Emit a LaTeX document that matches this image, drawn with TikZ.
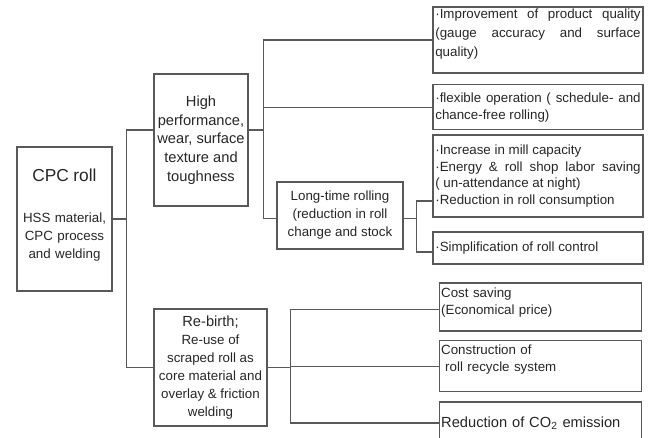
\documentclass[tikz,border=0pt]{standalone}
\usepackage{fontspec}
\setmainfont{Liberation Sans}
\usetikzlibrary{positioning}
\newcommand{\justtext}{\tolerance=9999\hyphenpenalty=10000\exhyphenpenalty=10000}
\tikzstyle{line} = [draw, black!65, line width=0.8pt]
\tikzstyle{plainbox} = [rectangle, draw=black!65, line width=0.8pt, text=black!85, inner sep=1.5pt]
\tikzstyle{itembox} = [plainbox, text width=154pt, align=justify, minimum width=157.5pt, font=\fontsize{10}{12.5}\selectfont\justtext]
\tikzstyle{effectbox} = [plainbox, text width=149pt, align=left, minimum width=152pt, font=\fontsize{10}{12.5}\selectfont]

\begin{document}
\begin{tikzpicture}[x=0.75pt, y=-0.75pt, node distance=50pt]
\useasboundingbox (0,0) rectangle (651,438);
\clip (0,0) rectangle (651,438);

\node (node0) [plainbox, text width=68pt, align=center, minimum width=71.25pt, minimum height=108pt, font=\fontsize{10}{13.5}\selectfont] at (64.5,219) {{\fontsize{13}{16}\selectfont CPC roll}\\[17pt] HSS material,\\ CPC process\\ and welding\par\vspace{6pt}};

\node (node00) [plainbox, align=center, minimum width=70.5pt, minimum height=99pt, font=\fontsize{11}{14}\selectfont] at (201,140) {High\\ performance,\\ wear, surface\\ texture and\\ toughness};

\node (node01) [plainbox, align=center, minimum width=84.75pt, minimum height=87.75pt, font=\fontsize{10}{13.5}\selectfont] at (210.5,367.5) {{\fontsize{11}{13.5}\selectfont Re-birth;}\\ Re-use of\\ scraped roll as\\ core material and\\ overlay \& friction\\ welding};

\node (node002) [plainbox, align=center, minimum width=94.5pt, minimum height=50.25pt, font=\fontsize{10}{13.5}\selectfont] at (340,215.5) {Long-time rolling\\ (reduction in roll\\ change and stock};

% high performance leaves
\node (node000) [itembox, minimum height=49.5pt, font=\fontsize{10}{14}\selectfont\justtext] at (538,40) {·Improvement of product quality\linebreak (gauge accuracy and surface\linebreak quality)\par\vspace{9pt}};

\node (node001) [itembox, below of=node000, node distance=50.6pt, minimum height=33.75pt] {·flexible operation ( schedule- and\linebreak chance-free rolling)};

\node (node0020) [itembox, below of=node001, node distance=51.4pt, minimum height=61.5pt] {·Increase in mill capacity\newline ·Energy \& roll shop labor saving\linebreak ( un-attendance at night)\newline ·Reduction in roll consumption};

\node (node0021) [itembox, below of=node0020, node distance=54pt, minimum height=24pt] {·Simplification of roll control};

% re-birth leaves
\node (node010) [effectbox, below of=node0021, node distance=44.25pt, xshift=1.9pt, minimum height=36pt] {Cost saving\\ (Economical price)\par\vspace{7pt}};

\node (node011) [effectbox, below of=node010, node distance=44.6pt, minimum height=38.25pt] {Construction of\\ \hspace*{3pt}roll recycle system\par\vspace{10pt}};

\node (node012) [effectbox, below of=node011, node distance=42.4pt, minimum height=31.5pt, font=\fontsize{11}{13}\selectfont] {Reduction of CO\textsubscript{2} emission};

\coordinate (bus0) at ([xshift=10.5pt]node0.east);
\coordinate (bus00) at ([xshift=11.25pt, yshift=7.5pt]node00.east);
\coordinate (bus002) at ([xshift=9.75pt, yshift=-2.6pt]node002.east);
\coordinate (bus01) at ([xshift=17.25pt]node01.east);

\path [line] (node0.east) -- (bus0);
\path [line] (bus0) |- ([yshift=7.5pt]node00.west);
\path [line] (bus0) |- (node01.west);

\path [line] ([yshift=7.5pt]node00.east) -- (bus00);
\path [line] (bus00) |- (node000.west);
\path [line] (bus00) |- (node001.west);
\path [line] (bus00) |- ([yshift=-2.6pt]node002.west);

\path [line] ([yshift=-2.6pt]node002.east) -- (bus002);
\path [line] (bus002) |- ([yshift=-18.75pt]node0020.west);
\path [line] (bus002) |- ([yshift=-3pt]node0021.west);

\path [line] (node01.east) -- (bus01);
\path [line] (bus01) |- ([yshift=-1.9pt]node010.west);
\path [line] (bus01) |- (node011.west);
\path [line] (bus01) |- (node012.west);

\end{tikzpicture}
\end{document}
